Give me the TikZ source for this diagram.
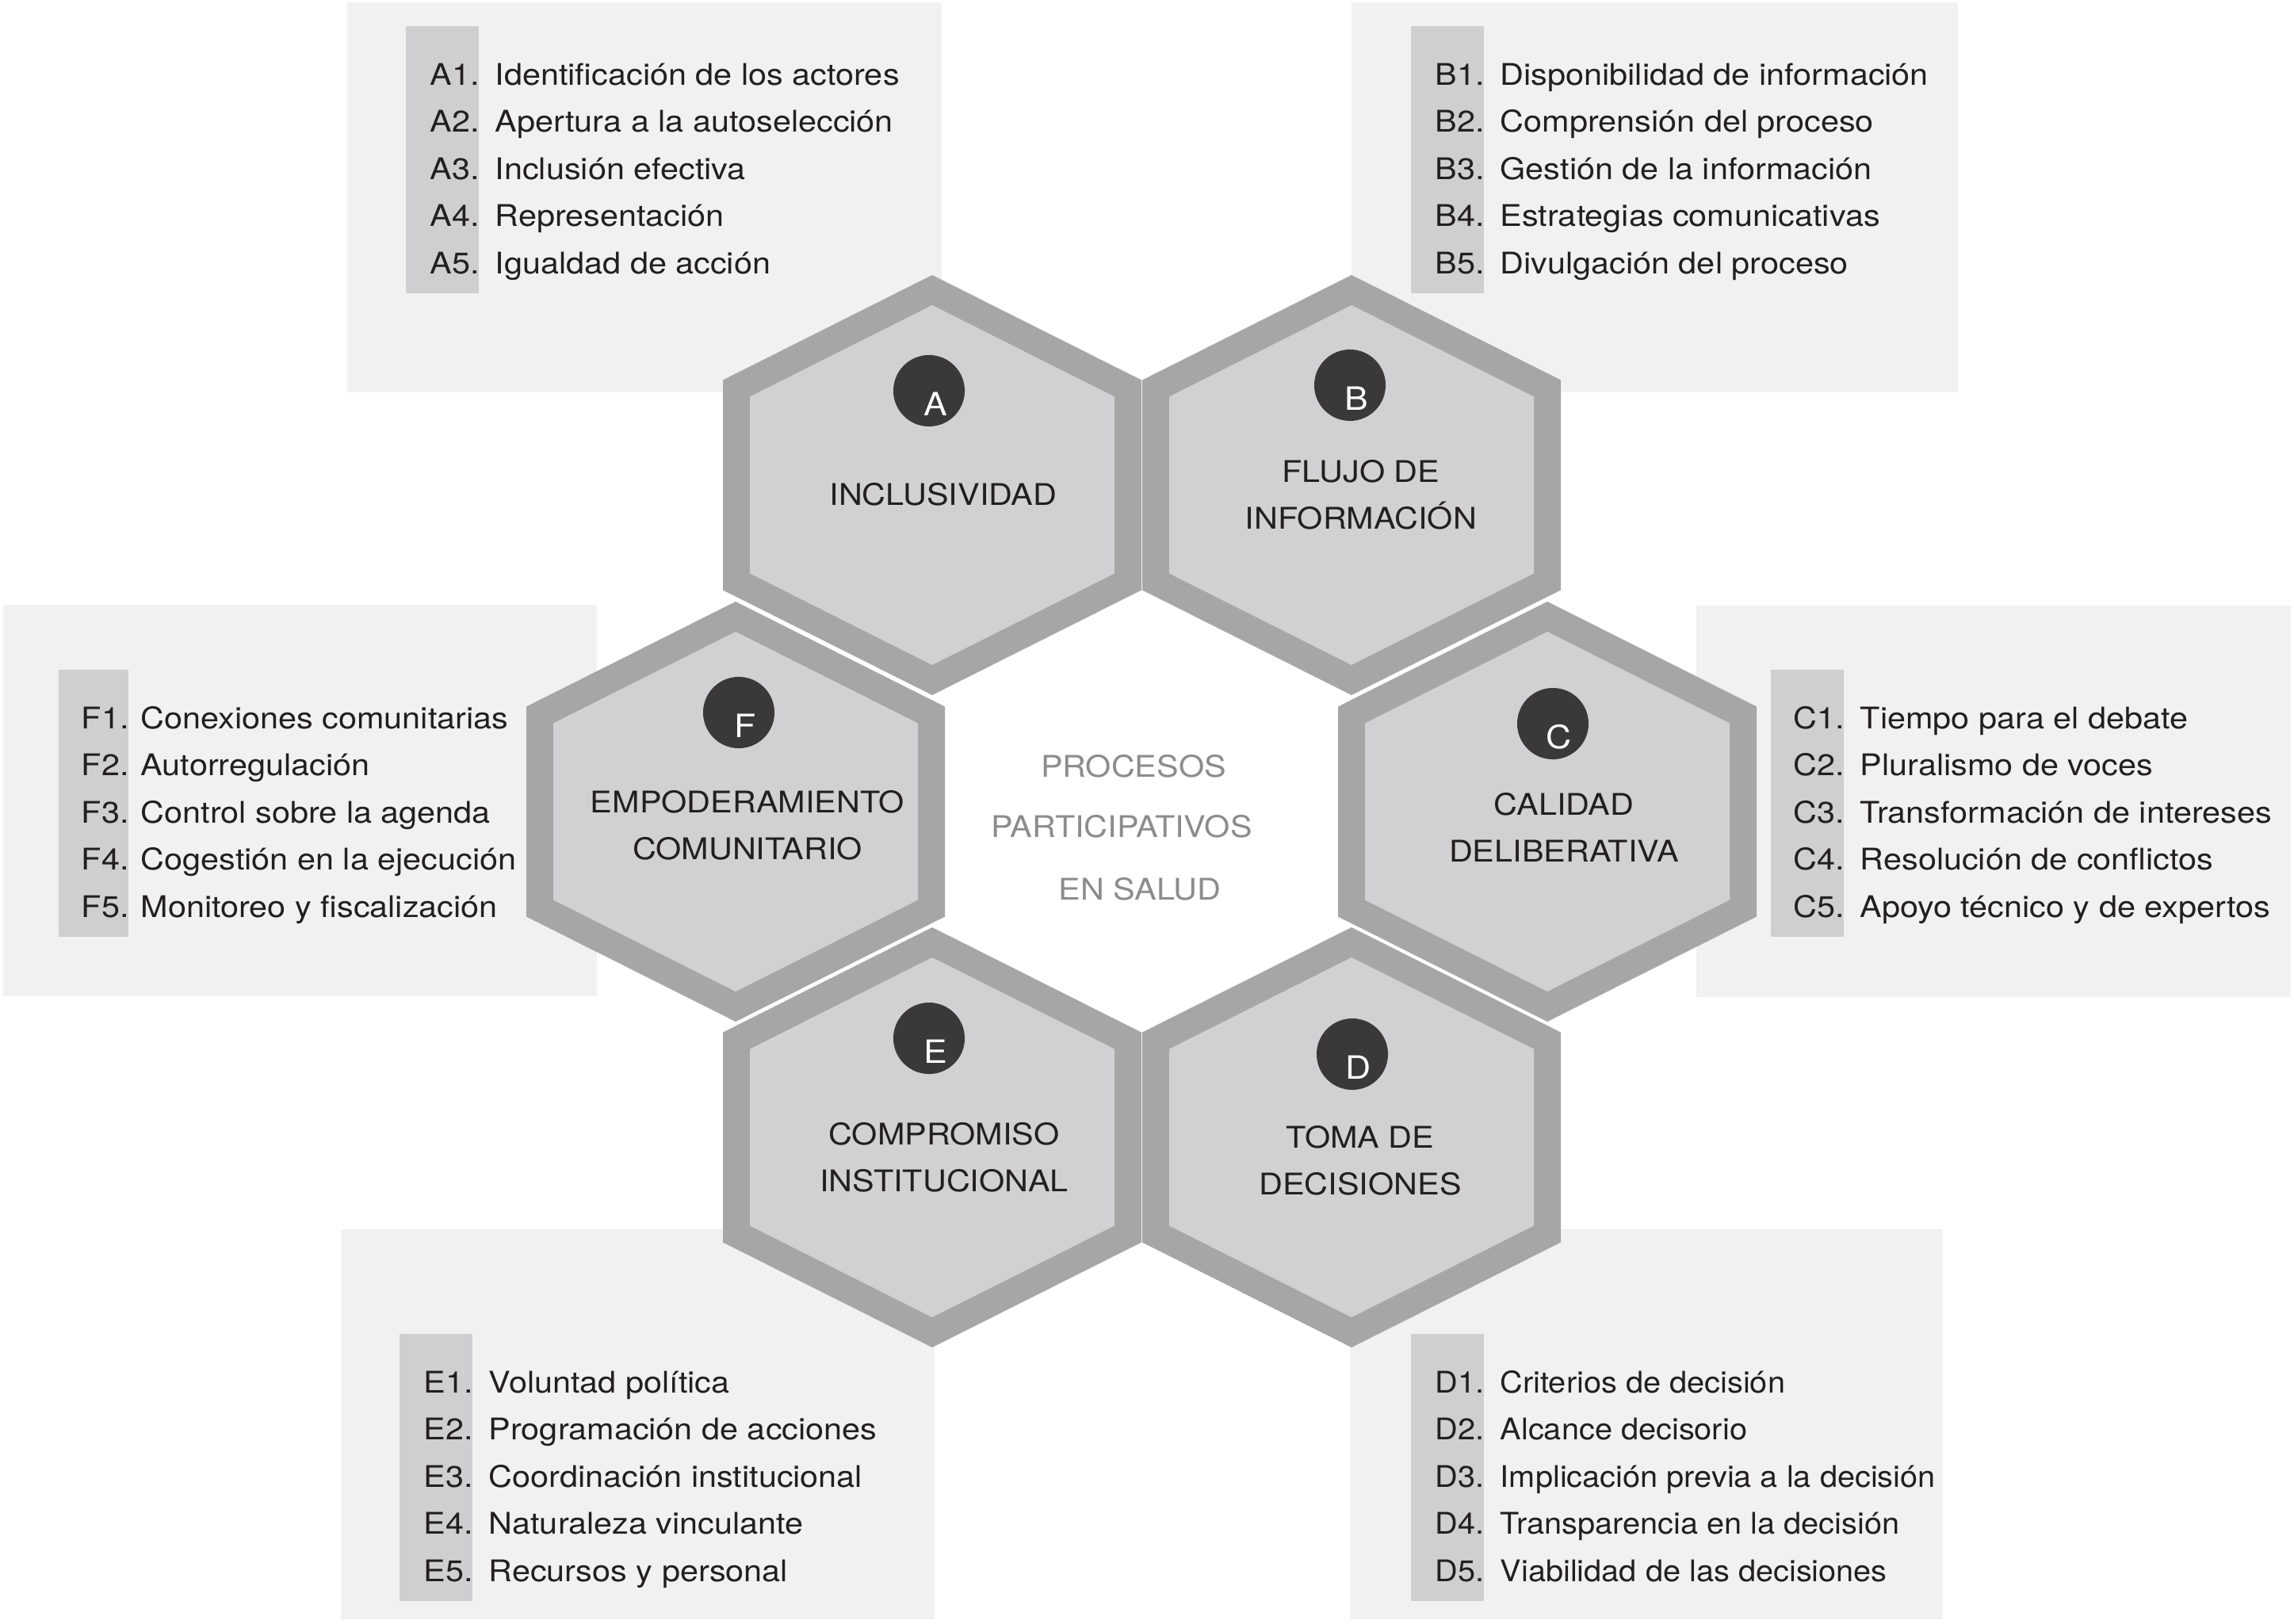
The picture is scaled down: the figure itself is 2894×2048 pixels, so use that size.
\documentclass[tikz,border=0pt]{standalone}
\usepackage{fontspec}
\setmainfont{TeX Gyre Heros}[FakeStretch=1.1]
\usetikzlibrary{calc}

\definecolor{hexedge}{RGB}{166,166,166}
\definecolor{hexface}{RGB}{209,208,210}
\definecolor{boxbg}{RGB}{241,241,242}
\definecolor{tabgray}{RGB}{207,207,209}
\definecolor{dotgray}{RGB}{58,56,57}
\definecolor{ink}{RGB}{35,31,32}
\definecolor{hubgray}{RGB}{140,140,140}

% one honeycomb cell: grey rim and light face
\newcommand{\hexcell}[1]{%
  \begin{scope}[shift={(#1)}]
    \fill[hexedge] (0,-265) -- (264,-132.5) -- (264,132.5) -- (0,265) -- (-264,132.5) -- (-264,-132.5) -- cycle;
    \fill[hexface] (0,-227) -- (230,-111.5) -- (230,111.5) -- (0,227) -- (-230,111.5) -- (-230,-111.5) -- cycle;
  \end{scope}}

\begin{document}
\begin{tikzpicture}[
    x=0.01cm, y=-0.01cm,
    listbg/.style={fill=boxbg},
    tab/.style={fill=tabgray},
    item/.style={anchor=base west, inner sep=0pt, text=ink, font=\fontsize{10.7}{12}\selectfont},
    itemnarrow/.style={item, font=\fontsize{10.7}{12}\addfontfeature{FakeStretch=1.056}\selectfont},
    title/.style={align=center, inner sep=0pt, text=ink, font=\fontsize{10.7}{16.8}\selectfont},
    badge/.style={circle, fill=dotgray, minimum size=0.9cm, inner sep=0pt},
    letter/.style={text=white, inner sep=0pt, font=\fontsize{11.5}{12}\selectfont},
    hub/.style={text=hubgray, inner sep=0pt, font=\fontsize{10.7}{12}\selectfont},
]
\useasboundingbox[fill=white] (0,0) rectangle (2894,2048);

% --- List boxes ---
\fill[listbg] (438,3) rectangle (1188,495);
\fill[listbg] (1705,3) rectangle (2470,495);
\fill[listbg] (2140,764) rectangle (2890,1258);
\fill[listbg] (1703,1551) rectangle (2451,2043);
\fill[listbg] (430,1551) rectangle (1179,2043);
\fill[listbg] (4,763) rectangle (753,1257);

\fill[tab] (512,33) rectangle (604,370);
\fill[tab] (1780,33) rectangle (1872,370);
\fill[tab] (2234,845) rectangle (2326,1182);
\fill[tab] (1780,1683) rectangle (1872,2020);
\fill[tab] (504,1683) rectangle (596,2020);
\fill[tab] (74,845) rectangle (162,1182);

% A items
\node[item] (a1) at (512,107) {\makebox[0.92cm][r]{A1.}\hspace{0.2cm}Identificación de los actores};
\node[item] (a2) at (512,166.5) {\makebox[0.92cm][r]{A2.}\hspace{0.2cm}Apertura a la autoselección};
\node[item] (a3) at (512,226) {\makebox[0.92cm][r]{A3.}\hspace{0.2cm}Inclusión efectiva};
\node[item] (a4) at (512,285.5) {\makebox[0.92cm][r]{A4.}\hspace{0.2cm}Representación};
\node[item] (a5) at (512,345) {\makebox[0.92cm][r]{A5.}\hspace{0.2cm}Igualdad de acción};

% B items
\node[item] (b1) at (1780,107) {\makebox[0.92cm][r]{B1.}\hspace{0.2cm}Disponibilidad de información};
\node[item] (b2) at (1780,166.5) {\makebox[0.92cm][r]{B2.}\hspace{0.2cm}Comprensión del proceso};
\node[item] (b3) at (1780,226) {\makebox[0.92cm][r]{B3.}\hspace{0.2cm}Gestión de la información};
\node[item] (b4) at (1780,285.5) {\makebox[0.92cm][r]{B4.}\hspace{0.2cm}Estrategias comunicativas};
\node[item] (b5) at (1780,345) {\makebox[0.92cm][r]{B5.}\hspace{0.2cm}Divulgación del proceso};

% C items
\node[item] (c1) at (2234,919) {\makebox[0.92cm][r]{C1.}\hspace{0.2cm}Tiempo para el debate};
\node[item] (c2) at (2234,978.5) {\makebox[0.92cm][r]{C2.}\hspace{0.2cm}Pluralismo de voces};
\node[item] (c3) at (2234,1038) {\makebox[0.92cm][r]{C3.}\hspace{0.2cm}Transformación de intereses};
\node[item] (c4) at (2234,1097.5) {\makebox[0.92cm][r]{C4.}\hspace{0.2cm}Resolución de conflictos};
\node[item] (c5) at (2234,1157) {\makebox[0.92cm][r]{C5.}\hspace{0.2cm}Apoyo técnico y de expertos};

% D items
\node[itemnarrow] (d1) at (1780,1757) {\makebox[0.92cm][r]{D1.}\hspace{0.2cm}Criterios de decisión};
\node[itemnarrow] (d2) at (1780,1816.5) {\makebox[0.92cm][r]{D2.}\hspace{0.2cm}Alcance decisorio};
\node[itemnarrow] (d3) at (1780,1876) {\makebox[0.92cm][r]{D3.}\hspace{0.2cm}Implicación previa a la decisión};
\node[itemnarrow] (d4) at (1780,1935.5) {\makebox[0.92cm][r]{D4.}\hspace{0.2cm}Transparencia en la decisión};
\node[itemnarrow] (d5) at (1780,1995) {\makebox[0.92cm][r]{D5.}\hspace{0.2cm}Viabilidad de las decisiones};

% E items
\node[item] (e1) at (504,1757) {\makebox[0.92cm][r]{E1.}\hspace{0.2cm}Voluntad política};
\node[item] (e2) at (504,1816.5) {\makebox[0.92cm][r]{E2.}\hspace{0.2cm}Programación de acciones};
\node[item] (e3) at (504,1876) {\makebox[0.92cm][r]{E3.}\hspace{0.2cm}Coordinación institucional};
\node[item] (e4) at (504,1935.5) {\makebox[0.92cm][r]{E4.}\hspace{0.2cm}Naturaleza vinculante};
\node[item] (e5) at (504,1995) {\makebox[0.92cm][r]{E5.}\hspace{0.2cm}Recursos y personal};

% F items
\node[item] (f1) at (70,919) {\makebox[0.92cm][r]{F1.}\hspace{0.15cm}Conexiones comunitarias};
\node[item] (f2) at (70,978.5) {\makebox[0.92cm][r]{F2.}\hspace{0.15cm}Autorregulación};
\node[item] (f3) at (70,1038) {\makebox[0.92cm][r]{F3.}\hspace{0.15cm}Control sobre la agenda};
\node[item] (f4) at (70,1097.5) {\makebox[0.92cm][r]{F4.}\hspace{0.15cm}Cogestión en la ejecución};
\node[item] (f5) at (70,1157) {\makebox[0.92cm][r]{F5.}\hspace{0.15cm}Monitoreo y fiscalización};

% --- Honeycomb ---
\coordinate (A) at (1176,612);
\coordinate (B) at (1705,612);
\coordinate (C) at (1952,1024);
\coordinate (D) at (1705,1435);
\coordinate (E) at (1176,1435);
\coordinate (F) at (928,1024);

\hexcell{A}
\hexcell{B}
\hexcell{C}
\hexcell{D}
\hexcell{E}
\hexcell{F}

\node[badge] (bA) at (1172,493) {};
\node[badge] (bB) at (1703,486) {};
\node[badge] (bC) at (1959,913) {};
\node[badge] (bD) at (1706,1330) {};
\node[badge] (bE) at (1172,1310) {};
\node[badge] (bF) at (932,899) {};

\node[letter] (lA) at ($(bA)+(8,17)$) {A};
\node[letter] (lB) at ($(bB)+(8,17)$) {B};
\node[letter] (lC) at ($(bC)+(8,17)$) {C};
\node[letter] (lD) at ($(bD)+(8,17)$) {D};
\node[letter] (lE) at ($(bE)+(8,17)$) {E};
\node[letter] (lF) at ($(bF)+(8,17)$) {F};

\node[title] (tA) at (1190,624) {INCLUSIVIDAD};
\node[title] (tB) at (1717,624) {FLUJO DE\\INFORMACIÓN};
\node[title] (tC) at (1973,1044) {CALIDAD\\DELIBERATIVA};
\node[title] (tD) at (1716,1464) {TOMA DE\\DECISIONES};
\node[title] (tE) at (1191,1460) {COMPROMISO\\INSTITUCIONAL};
\node[title] (tF) at (943,1041) {EMPODERAMIENTO\\COMUNITARIO};

% centre
\node[hub] (hub1) at (1430,967) {PROCESOS};
\node[hub] (hub2) at (1415,1043) {PARTICIPATIVOS};
\node[hub] (hub3) at (1438,1122) {EN SALUD};

\end{tikzpicture}
\end{document}
